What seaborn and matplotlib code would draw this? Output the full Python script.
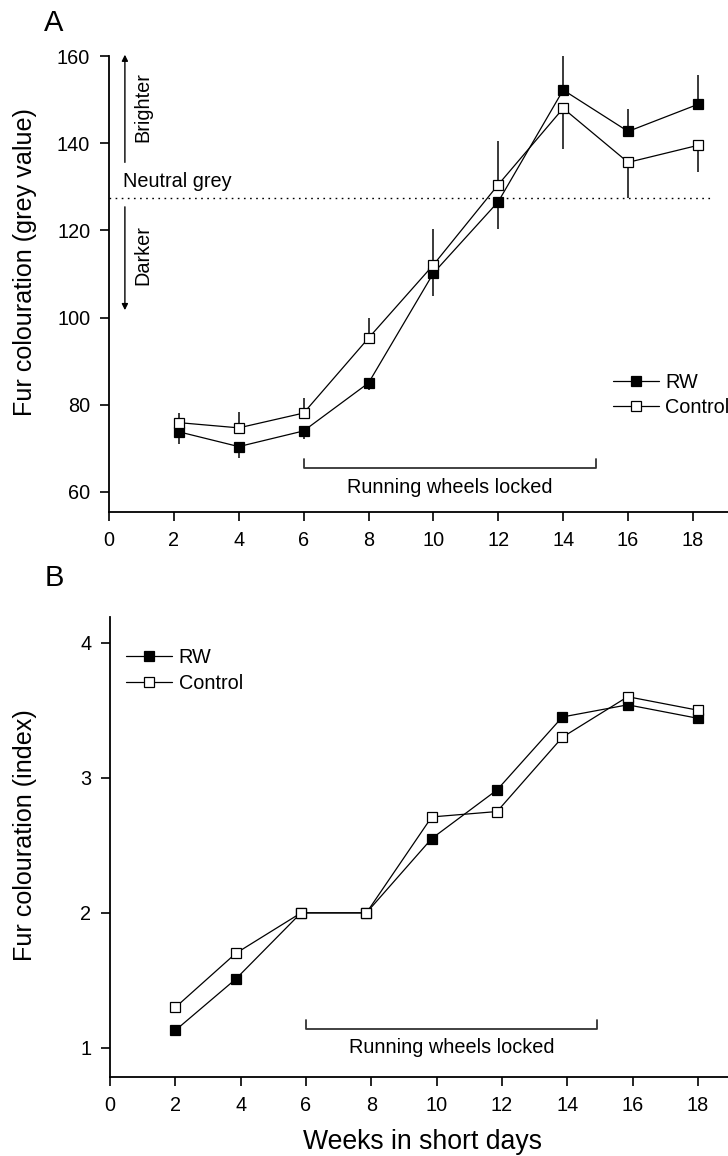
import numpy as np
import pandas as pd
import matplotlib
matplotlib.use("Agg")
import matplotlib.pyplot as plt
import seaborn as sns
from matplotlib.lines import Line2D

sns.set_theme(style="ticks")
plt.rcParams['font.family'] = ['Liberation Sans', 'DejaVu Sans']
plt.rcParams['text.color'] = 'black'
plt.rcParams['axes.labelcolor'] = 'black'

# ---------------- data ----------------
weeks_a = [2.15, 4, 6, 8, 10, 12, 14, 16, 18.15]
rw_grey = [73.8, 70.4, 74.0, 85.0, 110.2, 126.6, 152.2, 142.7, 148.9]
ctl_grey = [75.9, 74.7, 78.1, 95.3, 112.1, 130.5, 148.0, 135.6, 139.5]
rw_grey_err = [2.7, 2.6, 1.8, 1.6, 5.2, 6.2, 7.8, 5.1, 6.7]
ctl_grey_err = [2.1, 3.7, 3.5, 4.6, 8.3, 9.9, 9.4, 8.1, 6.2]

weeks_b = [2.0, 3.85, 5.85, 7.85, 9.85, 11.85, 13.85, 15.85, 18.0]
rw_index = [1.13, 1.51, 2.0, 2.0, 2.55, 2.91, 3.45, 3.54, 3.44]
ctl_index = [1.30, 1.70, 2.0, 2.0, 2.71, 2.75, 3.30, 3.60, 3.50]

groups = ["RW", "Control"]
neutral_grey = 127.5
locked_start, locked_end = 6, 15
x_ticks = [0, 2, 4, 6, 8, 10, 12, 14, 16, 18]
y_ticks_a = [60, 80, 100, 120, 140, 160]
y_ticks_b = [1, 2, 3, 4]

W, H = 728, 1156
fig = plt.figure(figsize=(W / 100, H / 100), dpi=100)
axA = fig.add_axes([109 / W, 1 - 512 / H, 1 - 109 / W, (512 - 56) / H])
axB = fig.add_axes([110 / W, 1 - 1077 / H, 1 - 110 / W, (1077 - 617) / H])

SMALL = 14.3
LABEL = 18.1
ms = 6.8
lw_line = 0.9

styles = {
    "RW": dict(marker='s', markerfacecolor='black', markeredgecolor='black'),
    "Control": dict(marker='s', markerfacecolor='white', markeredgecolor='black'),
}


def draw_series(ax, x, y, name):
    df = pd.DataFrame({"week": x, "value": y})
    sns.lineplot(data=df, x="week", y="value", ax=ax, color='black',
                 linewidth=lw_line, markersize=ms, markeredgewidth=0.9,
                 sort=False, zorder=4, **styles[name])


# ---------------- panel A ----------------
rw_a = np.array(rw_grey)
ctl_a = np.array(ctl_grey)
rw_up = np.where(rw_a > ctl_a, rw_grey_err, 0)
rw_dn = np.where(rw_a > ctl_a, 0, rw_grey_err)
ctl_up = np.where(ctl_a >= rw_a, ctl_grey_err, 0)
ctl_dn = np.where(ctl_a >= rw_a, 0, ctl_grey_err)
axA.errorbar(weeks_a, rw_grey, yerr=[rw_dn, rw_up], fmt='none', ecolor='#3a3a3a',
             elinewidth=1.4, capsize=0, zorder=3, clip_on=False)
axA.errorbar(weeks_a, ctl_grey, yerr=[ctl_dn, ctl_up], fmt='none', ecolor='#3a3a3a',
             elinewidth=1.4, capsize=0, zorder=3, clip_on=False)
draw_series(axA, weeks_a, rw_grey, "RW")
draw_series(axA, weeks_a, ctl_grey, "Control")

axA.plot([0, 18.6], [neutral_grey, neutral_grey], color='black', lw=1.0,
         linestyle=(0, (1.2, 3.2)), zorder=2)
axA.text(0.43, 131.1, "Neutral grey", fontsize=SMALL, ha='left', va='center')
axA.annotate("", xy=(0.49, 160.3), xytext=(0.49, 135.6), annotation_clip=False,
             arrowprops=dict(arrowstyle='-|>', color='black', lw=1.0,
                             mutation_scale=9, shrinkA=0, shrinkB=0))
axA.annotate("", xy=(0.49, 101.7), xytext=(0.49, 125.4), annotation_clip=False,
             arrowprops=dict(arrowstyle='-|>', color='black', lw=1.0,
                             mutation_scale=9, shrinkA=0, shrinkB=0))
axA.text(1.05, 148.3, "Brighter", rotation=90, fontsize=SMALL, ha='center', va='center')
axA.text(1.05, 114.4, "Darker", rotation=90, fontsize=SMALL, ha='center', va='center')

axA.plot([locked_start, locked_start, locked_end, locked_end],
         [67.6, 65.5, 65.5, 67.6], color='#333333', lw=1.3, zorder=2)
axA.text((locked_start + locked_end) / 2, 61.1, "Running wheels locked",
         fontsize=SMALL, ha='center', va='center')

axA.set_xlim(0, 19.08)
axA.set_ylim(55.4, 160)
axA.set_yticks(y_ticks_a)
axA.set_xticks(x_ticks)
axA.set_xlabel("")
axA.set_ylabel("Fur colouration (grey value)", fontsize=LABEL)
axA.yaxis.set_label_coords(-0.116, 0.548)

handles = [Line2D([], [], color='black', lw=lw_line, markersize=ms, markeredgewidth=0.9,
                  **styles[g]) for g in groups]
axA.legend(handles, groups, frameon=False, fontsize=SMALL, loc='upper left',
           bbox_to_anchor=(0.814, 0.305), borderaxespad=0, borderpad=0,
           handlelength=2.3, handletextpad=0.35, labelspacing=0.32)

# ---------------- panel B ----------------
draw_series(axB, weeks_b, rw_index, "RW")
draw_series(axB, weeks_b, ctl_index, "Control")
axB.plot([locked_start, locked_start, 14.9, 14.9],
         [1.21, 1.14, 1.14, 1.21], color='#333333', lw=1.3, zorder=2)
axB.text((locked_start + 14.9) / 2, 1.0, "Running wheels locked",
         fontsize=SMALL, ha='center', va='center')
axB.set_xlim(0, 18.92)
axB.set_ylim(0.785, 4.19)
axB.set_yticks(y_ticks_b)
axB.set_xticks(x_ticks)
axB.set_ylabel("Fur colouration (index)", fontsize=LABEL)
axB.yaxis.set_label_coords(-0.118, 0.525)
axB.set_xlabel("Weeks in short days", fontsize=19.2)
axB.xaxis.set_label_coords(0.506, -0.112)
axB.legend(handles, groups, frameon=False, fontsize=SMALL, loc='upper left',
           bbox_to_anchor=(0.026, 0.932), borderaxespad=0, borderpad=0,
           handlelength=2.3, handletextpad=0.35, labelspacing=0.32)

for ax in (axA, axB):
    for s in ('top', 'right'):
        ax.spines[s].set_visible(False)
    for s in ('left', 'bottom'):
        ax.spines[s].set_linewidth(1.3)
        ax.spines[s].set_color('black')
    ax.tick_params(direction='out', length=6.5, width=1.2, colors='black',
                   labelsize=SMALL, pad=7)
    ax.grid(False)

fig.text(54 / W, 1 - 23 / H, "A", fontsize=21, ha='center', va='center')
fig.text(54 / W, 1 - 578 / H, "B", fontsize=21, ha='center', va='center')

fig.savefig("out.png", dpi=100)
